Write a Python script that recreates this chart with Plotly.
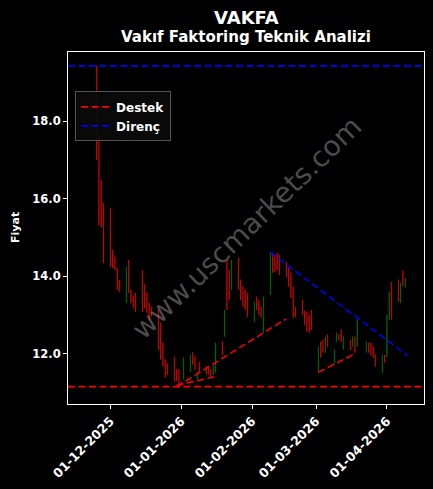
import plotly.graph_objects as go

# ---------------- data ----------------
dates = [
    "2025-11-25", "2025-11-26", "2025-11-27", "2025-11-28",
    "2025-12-01", "2025-12-02", "2025-12-03", "2025-12-04", "2025-12-05",
    "2025-12-08", "2025-12-09", "2025-12-10", "2025-12-11", "2025-12-12",
    "2025-12-15", "2025-12-16", "2025-12-17", "2025-12-18", "2025-12-19",
    "2025-12-22", "2025-12-23", "2025-12-24", "2025-12-25", "2025-12-26",
    "2025-12-29", "2025-12-30", "2025-12-31", "2026-01-02",
    "2026-01-05", "2026-01-06", "2026-01-07", "2026-01-08", "2026-01-09",
    "2026-01-12", "2026-01-13", "2026-01-14", "2026-01-15", "2026-01-16",
    "2026-01-19", "2026-01-20", "2026-01-21", "2026-01-22", "2026-01-23",
    "2026-01-26", "2026-01-27", "2026-01-28", "2026-01-29", "2026-01-30",
    "2026-02-02", "2026-02-03", "2026-02-04", "2026-02-05", "2026-02-06",
    "2026-02-09", "2026-02-10", "2026-02-11", "2026-02-12", "2026-02-13",
    "2026-02-16", "2026-02-17", "2026-02-18", "2026-02-19", "2026-02-20",
    "2026-02-23", "2026-02-24", "2026-02-25", "2026-02-26", "2026-02-27",
    "2026-03-02", "2026-03-03", "2026-03-04", "2026-03-05", "2026-03-06",
    "2026-03-09", "2026-03-10", "2026-03-11", "2026-03-12", "2026-03-13",
    "2026-03-16", "2026-03-17", "2026-03-18", "2026-03-19",
    "2026-03-23", "2026-03-24", "2026-03-25", "2026-03-26", "2026-03-27",
    "2026-03-30", "2026-03-31", "2026-04-01", "2026-04-02", "2026-04-03",
    "2026-04-06", "2026-04-07", "2026-04-08", "2026-04-09",
]
open_ = [
    19.43, 17.64, 16.48, 15.89,
    15.76, 14.68, 14.50, 14.21, 13.90,
    13.31, 14.42, 13.65, 13.50, 13.57,
    14.16, 13.78, 13.57, 13.31, 13.21,
    13.13, 12.80, 12.28, 11.85, 11.75,
    11.92, 11.60, 11.59, 11.33,
    11.54, 12.03, 11.92, 11.33, 11.79,
    11.67, 11.64, 11.59, 11.45, 11.51,
    12.31, 12.44, 14.42, 14.16, 13.65,
    14.47, 13.91, 13.73, 13.65, 13.57,
    12.82, 13.47, 13.39, 13.21, 12.54,
    13.52, 14.60, 14.55, 14.60, 14.55,
    14.37, 14.21, 14.09, 13.73, 13.20,
    13.39, 13.10, 13.08, 13.00, 13.13,
    11.54, 12.31, 12.36, 12.03, 12.49,
    11.72, 12.31, 12.49, 12.62, 12.10,
    12.36, 12.18, 12.44, 12.18,
    12.03, 12.28, 12.28, 12.18, 11.97,
    11.51, 11.97, 11.92, 12.88, 13.85,
    13.91, 13.31, 14.14, 13.70,
]
close = [
    17.00, 15.32, 15.27, 14.34,
    14.24, 14.21, 14.16, 13.65, 13.60,
    14.24, 13.57, 13.31, 13.20, 13.08,
    13.08, 13.18, 13.06, 12.88, 12.95,
    12.10, 11.85, 11.67, 11.38, 11.45,
    11.28, 11.30, 11.15, 11.90,
    11.97, 11.72, 11.59, 11.51, 11.51,
    11.46, 11.46, 11.41, 11.70, 12.28,
    11.97, 13.13, 13.13, 13.39, 14.42,
    13.65, 13.39, 13.21, 13.13, 12.95,
    13.34, 13.13, 13.00, 12.93, 13.47,
    14.60, 14.09, 14.11, 14.16, 14.03,
    13.98, 13.73, 13.44, 12.93, 12.95,
    13.00, 12.75, 12.57, 12.54, 12.62,
    12.18, 11.90, 12.03, 12.44, 12.18,
    12.10, 12.54, 12.36, 12.31, 12.44,
    12.10, 12.44, 12.03, 12.88,
    12.31, 12.03, 11.97, 11.90, 11.67,
    11.97, 11.77, 13.00, 13.60, 12.88,
    13.34, 13.83, 13.75, 13.95,
]
high = [
    19.43, 17.64, 16.48, 15.89,
    15.76, 14.68, 14.50, 14.21, 13.90,
    14.24, 14.42, 13.65, 13.50, 13.57,
    14.16, 13.78, 13.57, 13.31, 13.21,
    13.13, 12.80, 12.28, 11.85, 11.75,
    11.92, 11.60, 11.59, 11.90,
    11.97, 12.03, 11.92, 11.51, 11.79,
    11.67, 11.64, 11.59, 11.70, 12.28,
    12.31, 13.13, 14.42, 14.16, 14.42,
    14.47, 13.91, 13.73, 13.65, 13.57,
    13.34, 13.47, 13.39, 13.21, 13.47,
    14.60, 14.60, 14.55, 14.60, 14.55,
    14.37, 14.21, 14.09, 13.73, 13.20,
    13.39, 13.10, 13.08, 13.00, 13.13,
    12.18, 12.31, 12.36, 12.44, 12.49,
    12.10, 12.54, 12.49, 12.62, 12.44,
    12.36, 12.44, 12.44, 12.88,
    12.31, 12.28, 12.28, 12.18, 11.97,
    11.97, 11.97, 13.00, 13.60, 13.85,
    13.91, 13.83, 14.14, 13.95,
]
low = [
    17.00, 15.32, 15.27, 14.34,
    14.24, 14.21, 14.16, 13.65, 13.60,
    13.31, 13.57, 13.31, 13.20, 13.08,
    13.08, 13.18, 13.06, 12.88, 12.95,
    12.10, 11.85, 11.67, 11.38, 11.45,
    11.28, 11.30, 11.15, 11.33,
    11.54, 11.72, 11.59, 11.33, 11.51,
    11.46, 11.46, 11.41, 11.45, 11.51,
    11.97, 12.44, 13.13, 13.39, 13.65,
    13.65, 13.39, 13.21, 13.13, 12.95,
    12.82, 13.13, 13.00, 12.93, 12.54,
    13.52, 14.09, 14.11, 14.16, 14.03,
    13.98, 13.73, 13.44, 12.93, 12.95,
    13.00, 12.75, 12.57, 12.54, 12.62,
    11.54, 11.90, 12.03, 12.03, 12.18,
    11.72, 12.31, 12.36, 12.31, 12.10,
    12.10, 12.18, 12.03, 12.18,
    12.03, 12.03, 11.97, 11.90, 11.67,
    11.51, 11.77, 11.92, 12.88, 12.88,
    13.34, 13.31, 13.75, 13.70,
]

support_level = 11.15
resistance_level = 19.43

support_trend_1_x = ["2025-12-30", "2026-02-16"]
support_trend_1_y = [11.15, 12.90]
support_trend_2_x = ["2025-12-30", "2026-01-16"]
support_trend_2_y = [11.18, 11.41]
support_trend_3_x = ["2026-03-02", "2026-03-18"]
support_trend_3_y = [11.52, 12.00]
resistance_trend_x = ["2026-02-09", "2026-04-10"]
resistance_trend_y = [14.62, 11.95]

x_tick_vals = ["2025-12-01", "2026-01-01", "2026-02-01", "2026-03-01", "2026-04-01"]
x_tick_text = ["01-12-2025", "01-01-2026", "01-02-2026", "01-03-2026", "01-04-2026"]
y_tick_vals = [12, 14, 16, 18]
y_tick_text = ["12.0", "14.0", "16.0", "18.0"]

x_range = ["2025-11-12 11:00", "2026-04-17 05:00"]
y_range = [10.70, 19.79]

title_text = "VAKFA"
subtitle_text = "Vakıf Faktoring Teknik Analizi"
y_label = "Fiyat"
watermark = "www.uscmarkets.com"

# ---------------- figure ----------------
FONT = "DejaVu Sans"
RED = "#ff0000"
GREEN = "#008000"
BLUE = "#0000ff"

fig = go.Figure()

fig.add_trace(go.Candlestick(
    x=dates, open=open_, high=high, low=low, close=close,
    increasing=dict(line=dict(color=GREEN, width=0.5), fillcolor=GREEN),
    decreasing=dict(line=dict(color=RED, width=0.5), fillcolor=RED),
    whiskerwidth=0, showlegend=False, hoverinfo="skip",
))

dash_pat = "7px,3.5px"
for tx, ty, col in [
    (support_trend_1_x, support_trend_1_y, RED),
    (support_trend_2_x, support_trend_2_y, RED),
    (support_trend_3_x, support_trend_3_y, RED),
    (resistance_trend_x, resistance_trend_y, BLUE),
]:
    fig.add_trace(go.Scatter(x=tx, y=ty, mode="lines",
                             line=dict(color=col, width=1.5, dash=dash_pat),
                             showlegend=False, hoverinfo="skip"))

# horizontal support / resistance lines across the full axis
for lvl, col in [(support_level, RED), (resistance_level, BLUE)]:
    fig.add_shape(type="line", xref="paper", x0=0, x1=1, yref="y", y0=lvl, y1=lvl,
                  line=dict(color=col, width=1.8, dash=dash_pat))

# legend entries
fig.add_trace(go.Scatter(x=[None], y=[None], mode="lines", name="Destek",
                         line=dict(color=RED, width=1.8, dash=dash_pat)))
fig.add_trace(go.Scatter(x=[None], y=[None], mode="lines", name="Direnç",
                         line=dict(color=BLUE, width=1.8, dash=dash_pat)))

axis_common = dict(
    showgrid=False, zeroline=False,
    showline=True, linecolor="white", linewidth=1, mirror=True,
    ticks="outside", tickcolor="white", ticklen=4, tickwidth=1,
)

fig.update_layout(
    width=433, height=489,
    paper_bgcolor="black", plot_bgcolor="black",
    margin=dict(l=68, r=9, t=52, b=85),
    boxgap=0.8,
    xaxis=dict(type="date", range=x_range, tickvals=x_tick_vals, ticktext=x_tick_text,
               tickangle=-45, rangeslider=dict(visible=False),
               tickfont=dict(family=FONT, size=12.5, color="white", weight="bold"),
               **axis_common),
    yaxis=dict(range=y_range, tickvals=y_tick_vals, ticktext=y_tick_text,
               tickfont=dict(family=FONT, size=11.5, color="white", weight="bold"),
               **axis_common),
    legend=dict(x=0.02, y=0.888, xanchor="left", yanchor="top",
                bgcolor="rgba(10,10,10,0.9)", bordercolor="#555555", borderwidth=1,
                font=dict(family=FONT, size=12, color="white", weight="bold"),
                itemwidth=30, tracegroupgap=0),
    showlegend=True,
    annotations=[
        dict(text=title_text, xref="paper", yref="paper", x=0.5, y=1, yshift=35,
             showarrow=False, yanchor="middle",
             font=dict(family=FONT, size=18, color="white", weight="bold")),
        dict(text=subtitle_text, xref="paper", yref="paper", x=0.5, y=1, yshift=15,
             showarrow=False, yanchor="middle",
             font=dict(family=FONT, size=15, color="white", weight="bold")),
        dict(text=y_label, xref="paper", yref="paper", x=0, y=0.5, xshift=-53,
             showarrow=False, textangle=-90, xanchor="center", yanchor="middle",
             font=dict(family=FONT, size=11, color="white", weight="bold")),
        dict(text=watermark, xref="paper", yref="paper", x=0.5, y=0.5,
             showarrow=False, textangle=-44, xanchor="center", yanchor="middle",
             font=dict(family=FONT, size=28, color="rgba(150,150,150,0.5)")),
    ],
)

fig.write_html("out.html", config={"displayModeBar": False},
               post_script="document.body.style.margin='0';document.body.style.background='black';")
